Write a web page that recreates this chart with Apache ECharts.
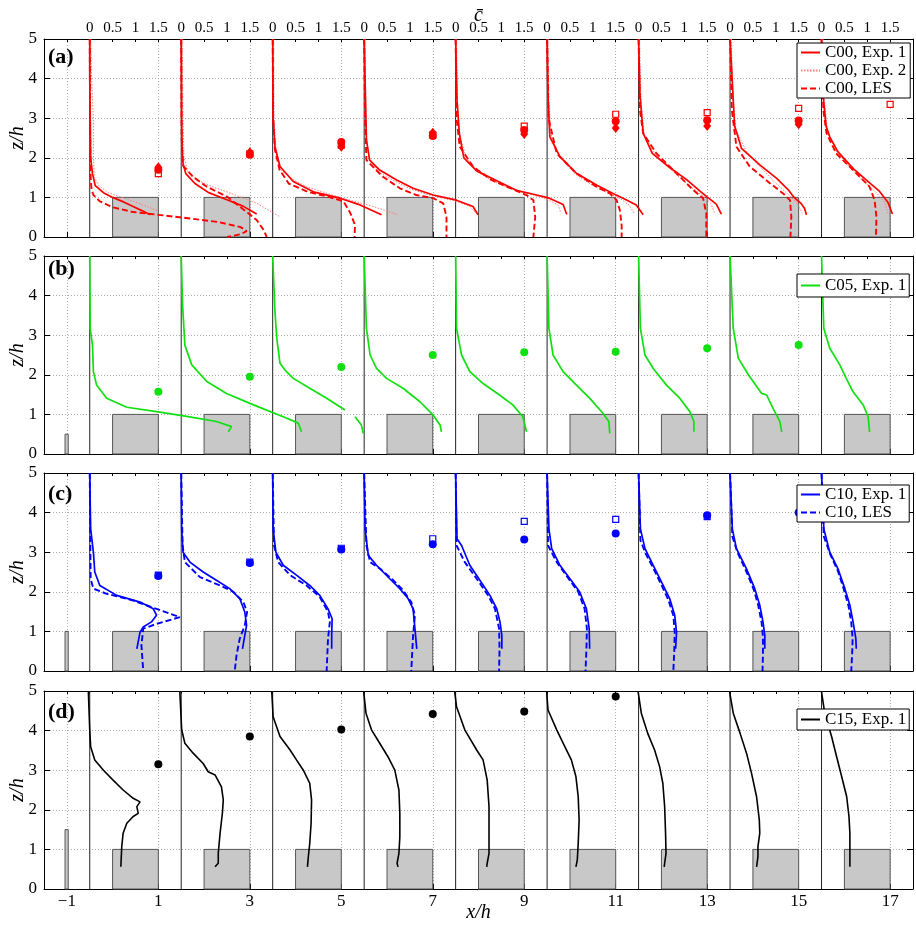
<!DOCTYPE html>
<html>
<head>
<meta charset="utf-8">
<script src="https://cdn.jsdelivr.net/npm/echarts@6/dist/echarts.min.js"></script>
<style>html,body{margin:0;padding:0;background:#fff;}#chart{width:916px;height:926px;}</style>
</head>
<body>
<div id="chart"></div>
<script>
// ---------------- DATA ----------------
const slotOrigins = [-0.5, 1.5, 3.5, 5.5, 7.5, 9.5, 11.5, 13.5, 15.5];
const buildingLeft = [0, 2, 4, 6, 8, 10, 12, 14, 16];
const buildingWidth = 1;
const buildingHeight = 1;
const sourceX = [-1.04, -0.97];
const sourceHeights = [0, 0.5, 1.0, 1.5];
const xTickValues = [-1, 1, 3, 5, 7, 9, 11, 13, 15, 17];
const zTickValues = [0, 1, 2, 3, 4, 5];
const cTickOffsets = [0, 0.5, 1, 1.5];
const cTickLabels = ['0', '0.5', '1', '1.5'];
const panelLabels = ['(a)', '(b)', '(c)', '(d)'];

// profiles: per slot, [c, z] pairs (plotted at x = slot origin + c)
const c00Exp1 = [
  [[0,5],[0,4],[0.01,3],[0.02,2],[0.06,1.6],[0.12,1.3],[0.3,1.12],[0.5,1.0],[0.75,0.88],[0.95,0.77],[1.15,0.66],[1.32,0.56]],
  [[0,5],[0.01,3],[0.02,2.2],[0.04,1.85],[0.1,1.6],[0.3,1.35],[0.6,1.12],[1.0,0.94],[1.35,0.78],[1.65,0.58]],
  [[0,5],[0.01,3],[0.05,2.28],[0.16,1.78],[0.45,1.4],[0.89,1.14],[1.47,0.98],[1.91,0.81],[2.38,0.56]],
  [[0,5],[0.03,3.46],[0.05,2.45],[0.12,1.94],[0.34,1.69],[0.71,1.44],[1.07,1.23],[1.51,1.06],[2.02,0.93],[2.38,0.77],[2.49,0.56]],
  [[0,5],[0.03,3.46],[0.08,2.62],[0.18,2.0],[0.46,1.67],[0.9,1.42],[1.35,1.17],[1.7,1.08],[2.05,0.98],[2.35,0.82],[2.43,0.57]],
  [[0,5],[0.02,3.5],[0.06,2.53],[0.28,2.03],[0.64,1.61],[1.1,1.3],[1.44,1.1],[1.66,0.98],[1.95,0.81],[2.1,0.56]],
  [[0,5],[0.03,3.6],[0.1,2.62],[0.3,2.11],[0.65,1.78],[1.05,1.45],[1.35,1.15],[1.49,1.02],[1.7,0.83],[1.81,0.58]],
  [[0,5],[0.07,3.46],[0.1,2.8],[0.25,2.24],[0.65,1.82],[1.02,1.48],[1.28,1.18],[1.4,1.0],[1.55,0.85],[1.63,0.72],[1.67,0.56]],
  [[0,5],[0.04,3.5],[0.1,2.8],[0.18,2.53],[0.36,2.15],[0.7,1.72],[1.0,1.42],[1.27,1.15],[1.45,0.88],[1.55,0.58]]
];
const c00Exp2 = [
  [[0.02,5],[0.04,4],[0.08,3],[0.08,2],[0.1,1.5],[0.2,1.3],[0.4,1.12],[0.65,1.02],[1.0,0.88],[1.3,0.75],[1.48,0.66]],
  [[0.02,5],[0.04,3],[0.06,2.0],[0.15,1.65],[0.34,1.44],[0.7,1.26],[1.0,1.14],[1.65,0.85],[2.16,0.51]],
  [[0.02,5],[0.03,3],[0.07,2.2],[0.16,1.7],[0.45,1.45],[0.74,1.27],[1.47,1.0],[2.2,0.77],[2.74,0.56]],
  [[0.02,5],[0.03,3.5],[0.05,2.5],[0.12,1.95],[0.3,1.65],[0.65,1.42],[1.0,1.22],[1.45,1.05],[1.95,0.92],[2.3,0.78],[2.45,0.6]],
  [[0.02,5],[0.04,3.4],[0.1,2.5],[0.22,2.05],[0.45,1.66],[0.8,1.42],[1.2,1.22],[1.65,1.08],[2.0,0.95],[2.25,0.8],[2.3,0.6]],
  [[0.02,5],[0.04,3.5],[0.08,2.6],[0.25,2.05],[0.6,1.6],[1.0,1.3],[1.35,1.1],[1.6,0.97],[1.8,0.8],[1.9,0.6]],
  [[0.02,5],[0.05,3.5],[0.12,2.6],[0.35,2.1],[0.75,1.65],[1.12,1.28],[1.4,1.05],[1.58,0.85],[1.66,0.6]],
  [[0.03,5],[0.06,3.5],[0.13,2.7],[0.36,2.15],[0.7,1.72],[0.98,1.38],[1.25,1.1],[1.45,0.88],[1.58,0.6]],
  [[0.03,5],[0.06,3.5],[0.13,2.65],[0.33,2.15],[0.65,1.72],[0.93,1.4],[1.2,1.12],[1.38,0.88],[1.45,0.6]]
];
const c00Les = [
  [[0,5],[0.01,2.5],[0.02,1.5],[0.04,1.2],[0.08,1.06],[0.22,0.9],[0.5,0.75],[0.95,0.63],[1.5,0.56],[2.1,0.48],[2.8,0.38],[3.3,0.25],[3.43,0.15],[3.3,0.07],[3.0,0.0]],
  [[0,5],[0.01,2.5],[0.04,1.8],[0.26,1.52],[0.56,1.27],[1.0,1.02],[1.28,0.77],[1.65,0.43],[1.8,0.18],[1.87,0.0]],
  [[0,5],[0.01,3],[0.05,2.2],[0.15,1.7],[0.35,1.35],[0.77,1.14],[1.2,1.02],[1.55,0.9],[1.7,0.6],[1.8,0.3],[1.79,0.0]],
  [[0,5],[0.02,3],[0.05,1.94],[0.41,1.52],[0.78,1.23],[1.14,1.06],[1.51,0.98],[1.73,0.85],[1.8,0.51],[1.8,0.0]],
  [[0,5],[0.02,3],[0.09,2.28],[0.38,1.78],[0.78,1.44],[1.22,1.22],[1.55,1.06],[1.7,0.93],[1.74,0.51],[1.7,0.0]],
  [[0,5],[0.03,3],[0.21,2.11],[0.64,1.61],[1.08,1.27],[1.37,1.1],[1.52,0.93],[1.59,0.68],[1.63,0.3],[1.63,0.0]],
  [[0,5],[0.03,3.2],[0.1,2.62],[0.39,2.11],[0.83,1.61],[1.19,1.19],[1.41,0.98],[1.48,0.6],[1.48,0.0]],
  [[0,5],[0.04,3.2],[0.14,2.28],[0.43,1.78],[0.87,1.36],[1.16,1.1],[1.31,0.93],[1.34,0.51],[1.32,0.0]],
  [[0,5],[0.04,3.2],[0.11,2.62],[0.32,2.11],[0.76,1.61],[1.05,1.27],[1.16,0.93],[1.2,0.51],[1.19,0.0]]
];
const c05Exp1 = [
  [[0,5],[0.01,3.17],[0.06,2.75],[0.08,2.08],[0.15,1.74],[0.37,1.41],[0.81,1.18],[1.46,1.07],[2.12,0.95],[2.77,0.82],[3.1,0.69],[3.03,0.56]],
  [[0,5],[0.03,3.76],[0.08,2.75],[0.23,2.25],[0.56,1.83],[0.99,1.53],[1.58,1.24],[2.23,0.94],[2.56,0.78],[2.63,0.56]],
  [[0,5],[0.05,3.59],[0.09,2.92],[0.16,2.29],[0.27,2.12],[0.45,1.91],[0.81,1.66],[1.18,1.41],[1.58,1.11],null,[1.8,0.94],[1.94,0.73],[1.98,0.52]],
  [[0,5],[0.05,3.17],[0.13,2.5],[0.27,2.16],[0.49,1.91],[0.85,1.66],[1.22,1.32],[1.51,0.98],[1.66,0.73],[1.69,0.56]],
  [[0,5],[0.02,3.17],[0.13,2.5],[0.31,2.08],[0.6,1.78],[0.96,1.49],[1.25,1.24],[1.47,0.94],[1.55,0.56]],
  [[0,5],[0.04,3.17],[0.13,2.5],[0.35,2.08],[0.64,1.74],[0.93,1.41],[1.22,1.03],[1.35,0.82],[1.37,0.52]],
  [[0,5],[0.04,3.17],[0.14,2.5],[0.32,2.16],[0.61,1.74],[0.9,1.41],[1.12,1.07],[1.21,0.82],[1.21,0.56]],
  [[0,5],[0.07,3.17],[0.18,2.42],[0.4,2.0],[0.61,1.66],[0.69,1.53],[0.8,1.49],[0.94,1.15],[1.09,0.82],[1.13,0.56]],
  [[0,5],[0.05,3.17],[0.18,2.67],[0.4,2.25],[0.54,1.91],[0.69,1.57],[0.91,1.24],[1.02,0.94],[1.05,0.56]]
];
const c10Exp1 = [
  [[0,5],[0.02,3.59],[0.08,3.0],[0.11,2.5],[0.22,2.16],[0.59,1.91],[1.1,1.74],[1.39,1.57],[1.46,1.41],[1.35,1.24],[1.17,1.11],[1.1,0.98],[1.03,0.56]],
  [[0,5],[0.01,3.59],[0.04,3.0],[0.19,2.75],[0.48,2.5],[0.77,2.29],[1.06,2.08],[1.28,1.83],[1.39,1.49],[1.43,1.15],[1.39,0.9],[1.34,0.56]],
  [[0,5],[0.01,3.59],[0.07,3.0],[0.23,2.67],[0.52,2.42],[0.81,2.16],[1.03,1.91],[1.21,1.57],[1.3,1.32],[1.29,0.9],[1.29,0.56]],
  [[0,5],[0.02,3.59],[0.09,2.92],[0.27,2.67],[0.56,2.33],[0.78,2.08],[0.96,1.83],[1.07,1.57],[1.11,1.07],[1.15,0.56]],
  [[0,5],[0.03,3.34],[0.13,3.17],[0.31,2.67],[0.53,2.29],[0.75,1.91],[0.9,1.57],[0.97,1.24],[1.01,0.9],[1.01,0.56]],
  [[0,5],[0.04,3.59],[0.1,3.09],[0.28,2.67],[0.5,2.33],[0.71,2.0],[0.86,1.57],[0.92,1.07],[0.93,0.56]],
  [[0,5],[0.04,3.59],[0.14,3.09],[0.32,2.67],[0.5,2.25],[0.68,1.83],[0.79,1.41],[0.83,0.98],[0.81,0.56]],
  [[0,5],[0.05,3.59],[0.14,3.09],[0.36,2.58],[0.54,2.08],[0.65,1.66],[0.72,1.24],[0.76,0.9],[0.76,0.56]],
  [[0,5],[0.05,3.59],[0.18,3.0],[0.36,2.58],[0.51,2.08],[0.62,1.66],[0.69,1.24],[0.75,0.82],[0.76,0.56]]
];
const c10Les = [
  [[0,5],[0.01,3.5],[0.02,2.33],[0.08,2.08],[0.37,1.95],[0.95,1.78],[1.46,1.57],[1.97,1.36],[1.46,1.19],[1.17,1.07],[1.13,0.65],[1.17,0]],
  [[0,5],[0.03,3.17],[0.08,2.75],[0.41,2.37],[0.85,2.16],[1.14,2.0],[1.36,1.74],[1.44,1.49],[1.39,1.15],[1.28,0.82],[1.21,0.4],[1.17,0]],
  [[0,5],[0.03,3.17],[0.12,2.75],[0.38,2.42],[0.74,2.16],[1.03,1.87],[1.21,1.49],[1.25,1.24],[1.21,0.82],[1.18,0]],
  [[0,5],[0.05,3.17],[0.13,2.75],[0.35,2.58],[0.64,2.29],[0.85,2.04],[1.03,1.74],[1.11,1.41],[1.07,0.9],[1.03,0]],
  [[0,5],[0.02,3.17],[0.2,2.75],[0.46,2.33],[0.71,1.91],[0.86,1.57],[0.95,1.07],[0.96,0.56],[0.95,0]],
  [[0,5],[0.02,3.17],[0.21,2.75],[0.47,2.33],[0.68,2.0],[0.82,1.57],[0.87,1.07],[0.86,0.56],[0.84,0]],
  [[0,5],[0.04,3.3],[0.16,2.95],[0.32,2.6],[0.48,2.22],[0.65,1.8],[0.76,1.4],[0.79,0.98],[0.78,0.5],[0.76,0]],
  [[0,5],[0.05,3.4],[0.16,3.0],[0.36,2.5],[0.52,2.05],[0.62,1.64],[0.69,1.22],[0.72,0.85],[0.72,0.45],[0.71,0]],
  [[0,5],[0.05,3.4],[0.2,2.92],[0.36,2.52],[0.49,2.05],[0.59,1.64],[0.65,1.22],[0.68,0.82],[0.67,0.45],[0.65,0]]
];
const c15Exp1 = [
  [[-0.03,4.98],[0,4.02],[0.02,3.59],[0.11,3.26],[0.3,3.0],[0.51,2.75],[0.73,2.5],[0.95,2.29],[1.1,2.2],[1.03,2.08],[1.06,1.91],[0.95,1.83],[0.81,1.66],[0.73,1.41],[0.7,1.07],[0.68,0.56]],
  [[-0.03,4.98],[0.01,4.02],[0.08,3.68],[0.26,3.43],[0.48,3.17],[0.59,2.96],[0.74,2.88],[0.88,2.58],[0.92,2.25],[0.9,1.91],[0.85,1.41],[0.81,0.9],[0.81,0.65],[0.74,0.56]],
  [[-0.02,4.98],[0.01,4.35],[0.16,3.85],[0.38,3.51],[0.52,3.26],[0.67,3.0],[0.81,2.67],[0.85,2.25],[0.84,1.66],[0.81,1.15],[0.78,0.82],[0.76,0.56]],
  [[-0.01,4.98],[0.04,4.44],[0.16,4.02],[0.34,3.68],[0.52,3.34],[0.67,3.0],[0.76,2.5],[0.78,1.91],[0.78,1.32],[0.76,0.9],[0.72,0.65],[0.74,0.56]],
  [[-0.02,4.98],[0.02,4.6],[0.2,4.02],[0.46,3.51],[0.6,3.26],[0.69,2.75],[0.73,2.08],[0.73,1.49],[0.73,0.9],[0.69,0.65],[0.68,0.56]],
  [[-0.01,4.98],[0.02,4.52],[0.21,4.02],[0.39,3.59],[0.53,3.26],[0.63,2.84],[0.68,2.33],[0.7,1.74],[0.68,1.15],[0.66,0.73],[0.63,0.56]],
  [[-0.01,4.98],[0.06,4.44],[0.2,3.93],[0.35,3.51],[0.46,3.09],[0.53,2.67],[0.57,2.08],[0.59,1.41],[0.6,0.9],[0.57,0.65],[0.56,0.56]],
  [[-0.01,4.98],[0.07,4.44],[0.22,3.93],[0.36,3.43],[0.47,2.92],[0.58,2.33],[0.64,1.74],[0.65,1.41],[0.61,1.07],[0.61,0.82],[0.58,0.56]],
  [[0,4.98],[0.07,4.44],[0.22,3.85],[0.33,3.34],[0.44,2.84],[0.55,2.33],[0.6,1.83],[0.62,1.41],[0.62,0.98],[0.62,0.56]]
];

// markers [x/h, z/h]
const c00Circles  = [[1,1.7],[3,2.08],[5,2.4],[7,2.55],[9,2.7],[11,2.92],[13,2.95],[15,2.94]];
const c00Squares  = [[1,1.6],[3,2.1],[5,2.32],[7,2.58],[9,2.8],[11,3.1],[13,3.14],[15,3.25],[17,3.35]];
const c00Diamonds = [[1,1.76],[3,2.14],[5,2.28],[7,2.63],[9,2.6],[11,2.75],[13,2.8],[15,2.85]];
const c05Circles  = [[1,1.57],[3,1.95],[5,2.2],[7,2.5],[9,2.57],[11,2.58],[13,2.67],[15,2.75]];
const c10Circles  = [[1,2.4],[3,2.73],[5,3.07],[7,3.2],[9,3.32],[11,3.47],[13,3.93],[15,4.0]];
const c10Squares  = [[1,2.42],[3,2.75],[5,3.1],[7,3.34],[9,3.78],[11,3.83],[13,3.9]];
const c15Circles  = [[1,3.15],[3,3.85],[5,4.03],[7,4.42],[9,4.48],[11,4.86]];

// ---------------- BUILD ----------------
const FONT = "'Liberation Serif','DejaVu Serif',serif";
const RED = '#ff0000', PINK = '#ff7a7a', GREEN = '#10e010', BLUE = '#0000ff', BLACK = '#000000';
const gridTops = [39, 256, 473, 691];

function profileData(profiles) {
  const out = [];
  profiles.forEach((slot, k) => {
    slot.forEach(p => out.push(p ? [slotOrigins[k] + p[0], p[1]] : ['-', '-']));
    out.push(['-', '-']);
  });
  return out;
}

const cTickValues = [];
const cTickMap = {};
slotOrigins.forEach(o => cTickOffsets.forEach((d, j) => {
  const v = Math.round((o + d) * 10) / 10;
  cTickValues.push(v); cTickMap[v.toFixed(1)] = cTickLabels[j];
}));

const grids = [], xAxes = [], yAxes = [], series = [], legends = [], graphics = [];
const dotted = { color: '#9a9a9a', type: [1, 2], width: 0.8 };

for (let i = 0; i < 4; i++) {
  grids.push({ left: 44, right: 3, top: gridTops[i], height: 198, containLabel: false, outerBoundsMode: 'none' });
  xAxes.push({
    gridIndex: i, type: 'value', position: 'bottom', min: -1.5, max: 17.5, interval: 0.5,
    axisLine: { show: true, onZero: false, lineStyle: { color: '#000', width: 1 } },
    axisTick: { show: true, inside: true, length: 5, customValues: xTickValues, lineStyle: { color: '#000' } },
    axisLabel: { show: i === 3, customValues: xTickValues, color: '#000', fontFamily: FONT, fontSize: 17, margin: 4,
      formatter: v => (xTickValues.indexOf(v) < 0 ? '' : (v < 0 ? '\u2212' + Math.abs(v) : String(v))) },
    splitLine: { show: true, lineStyle: dotted },
    name: i === 3 ? 'x/h' : '', nameLocation: 'middle', nameGap: 14, nameMoveOverlap: false,
    nameTextStyle: { fontFamily: FONT, fontStyle: 'italic', fontSize: 20, color: '#000' }
  });
  xAxes.push({
    gridIndex: i, type: 'value', position: 'top', min: -1.5, max: 17.5, interval: 0.5,
    axisLine: { show: true, onZero: false, lineStyle: { color: '#000', width: 1 } },
    axisTick: { show: true, inside: true, length: 3, lineStyle: { color: '#000' } },
    axisLabel: { show: i === 0, customValues: cTickValues, color: '#000', fontFamily: FONT, fontSize: 15, margin: 3,
      formatter: v => { const k = (Math.round(v * 10) / 10).toFixed(1); return cTickMap[k] !== undefined ? cTickMap[k] : ''; } },
    splitLine: { show: false },
    name: i === 0 ? 'c\u0304' : '', nameLocation: 'middle', nameGap: 13, nameMoveOverlap: false,
    nameTextStyle: { fontFamily: FONT, fontStyle: 'italic', fontSize: 20, color: '#000' }
  });
  yAxes.push({
    gridIndex: i, type: 'value', position: 'left', min: 0, max: 5, interval: 0.5,
    axisLine: { show: true, onZero: false, lineStyle: { color: '#000', width: 1 } },
    axisTick: { show: true, inside: true, length: 6, customValues: zTickValues, lineStyle: { color: '#000' } },
    axisLabel: { customValues: zTickValues, color: '#000', fontFamily: FONT, fontSize: 17, margin: 7,
      formatter: v => (zTickValues.indexOf(v) < 0 ? '' : String(v)) },
    splitLine: { show: true, lineStyle: dotted },
    name: 'z/h', nameLocation: 'middle', nameRotate: 90, nameGap: 16, nameMoveOverlap: false,
    nameTextStyle: { fontFamily: FONT, fontStyle: 'italic', fontSize: 20, color: '#000' }
  });
  yAxes.push({
    gridIndex: i, type: 'value', position: 'right', min: 0, max: 5, interval: 0.5,
    axisLine: { show: true, onZero: false, lineStyle: { color: '#000', width: 1 } },
    axisTick: { show: true, inside: true, length: 6, customValues: zTickValues, lineStyle: { color: '#000' } },
    axisLabel: { show: false }, splitLine: { show: false }
  });

  // buildings and source
  const boxData = buildingLeft.map(x => [x, x + buildingWidth, buildingHeight]);
  if (sourceHeights[i] > 0) boxData.push([sourceX[0], sourceX[1], sourceHeights[i]]);
  series.push({
    type: 'custom', xAxisIndex: 2 * i, yAxisIndex: 2 * i, silent: true, z: 1,
    encode: { x: [0, 1], y: 2 }, data: boxData,
    renderItem: (params, api) => {
      const p0 = api.coord([api.value(0), api.value(2)]);
      const p1 = api.coord([api.value(1), 0]);
      return { type: 'rect', shape: { x: p0[0], y: p0[1], width: p1[0] - p0[0], height: p1[1] - p0[1] },
        style: { fill: '#c8c8c8', stroke: '#555', lineWidth: 1 } };
    }
  });
  // profile origin lines
  series.push({
    type: 'custom', xAxisIndex: 2 * i, yAxisIndex: 2 * i, silent: true, z: 2,
    encode: { x: 0, y: [1, 2] }, data: slotOrigins.map(x => [x, 0, 5]),
    renderItem: (params, api) => {
      const a = api.coord([api.value(0), api.value(1)]);
      const b = api.coord([api.value(0), api.value(2)]);
      return { type: 'line', shape: { x1: a[0], y1: a[1], x2: b[0], y2: b[1] }, style: { stroke: '#222', lineWidth: 1 } };
    }
  });
  graphics.push({ type: 'text', left: 48, top: [46, 258, 483, 701][i],
    style: { text: panelLabels[i], font: "bold 22px 'Liberation Serif'", fill: '#000' } });
}

function lineSeries(i, name, profiles, color, type, width) {
  return { type: 'line', name, xAxisIndex: 2 * i, yAxisIndex: 2 * i, data: profileData(profiles),
    symbol: 'none', showSymbol: false, connectNulls: false, z: 3, animation: false,
    lineStyle: { color, type, width }, itemStyle: { color } };
}
function scatter(i, name, data, symbol, size, fill, stroke) {
  return { type: 'scatter', name, xAxisIndex: 2 * i, yAxisIndex: 2 * i, data, symbol, symbolSize: size, z: 4,
    itemStyle: { color: fill, borderColor: stroke, borderWidth: stroke ? 1.2 : 0, opacity: 1 } };
}

series.push(lineSeries(0, 'C00, Exp. 2', c00Exp2, PINK, [1.5, 1.5], 1));
series.push(lineSeries(0, 'C00, LES', c00Les, RED, [6, 3], 1.9));
series.push(lineSeries(0, 'C00, Exp. 1', c00Exp1, RED, 'solid', 1.7));
series.push(scatter(0, 'c00sq', c00Squares, 'rect', 6, '#fff', RED));
series.push(scatter(0, 'c00di', c00Diamonds, 'diamond', [8, 10], RED));
series.push(scatter(0, 'c00ci', c00Circles, 'circle', 8, RED));

series.push(lineSeries(1, 'C05, Exp. 1', c05Exp1, GREEN, 'solid', 1.7));
series.push(scatter(1, 'c05ci', c05Circles, 'circle', 8, GREEN));

series.push(lineSeries(2, 'C10, LES', c10Les, BLUE, [6, 3], 1.9));
series.push(lineSeries(2, 'C10, Exp. 1', c10Exp1, BLUE, 'solid', 1.7));
series.push(scatter(2, 'c10sq', c10Squares, 'rect', 6, '#fff', BLUE));
series.push(scatter(2, 'c10ci', c10Circles, 'circle', 8, BLUE));

series.push(lineSeries(3, 'C15, Exp. 1', c15Exp1, BLACK, 'solid', 1.6));
series.push(scatter(3, 'c15ci', c15Circles, 'circle', 8, BLACK));

const legendBase = {
  orient: 'vertical', left: 797, itemWidth: 19, itemHeight: 12, itemGap: 1,
  borderColor: '#000', borderWidth: 1, backgroundColor: '#fff', borderRadius: 0,
  itemStyle: { opacity: 0 },
  textStyle: { fontFamily: FONT, fontSize: 17, color: '#000', lineHeight: 16 },
  selectedMode: false, z: 10
};
legends.push(Object.assign({}, legendBase, { top: 43, padding: [1, 4, 1, 3], data: ['C00, Exp. 1', 'C00, Exp. 2', 'C00, LES'] }));
legends.push(Object.assign({}, legendBase, { top: 274, padding: [3, 3, 3, 3], data: ['C05, Exp. 1'] }));
legends.push(Object.assign({}, legendBase, { top: 485, padding: [1, 3, 1, 3], data: ['C10, Exp. 1', 'C10, LES'] }));
legends.push(Object.assign({}, legendBase, { top: 709, padding: [2, 3, 2, 3], data: ['C15, Exp. 1'] }));

const chart = echarts.init(document.getElementById('chart'), null, { renderer: 'canvas', width: 916, height: 926 });
chart.setOption({
  backgroundColor: '#fff', animation: false,
  grid: grids, xAxis: xAxes, yAxis: yAxes, series, legend: legends, graphic: graphics
});
</script>
</body>
</html>
